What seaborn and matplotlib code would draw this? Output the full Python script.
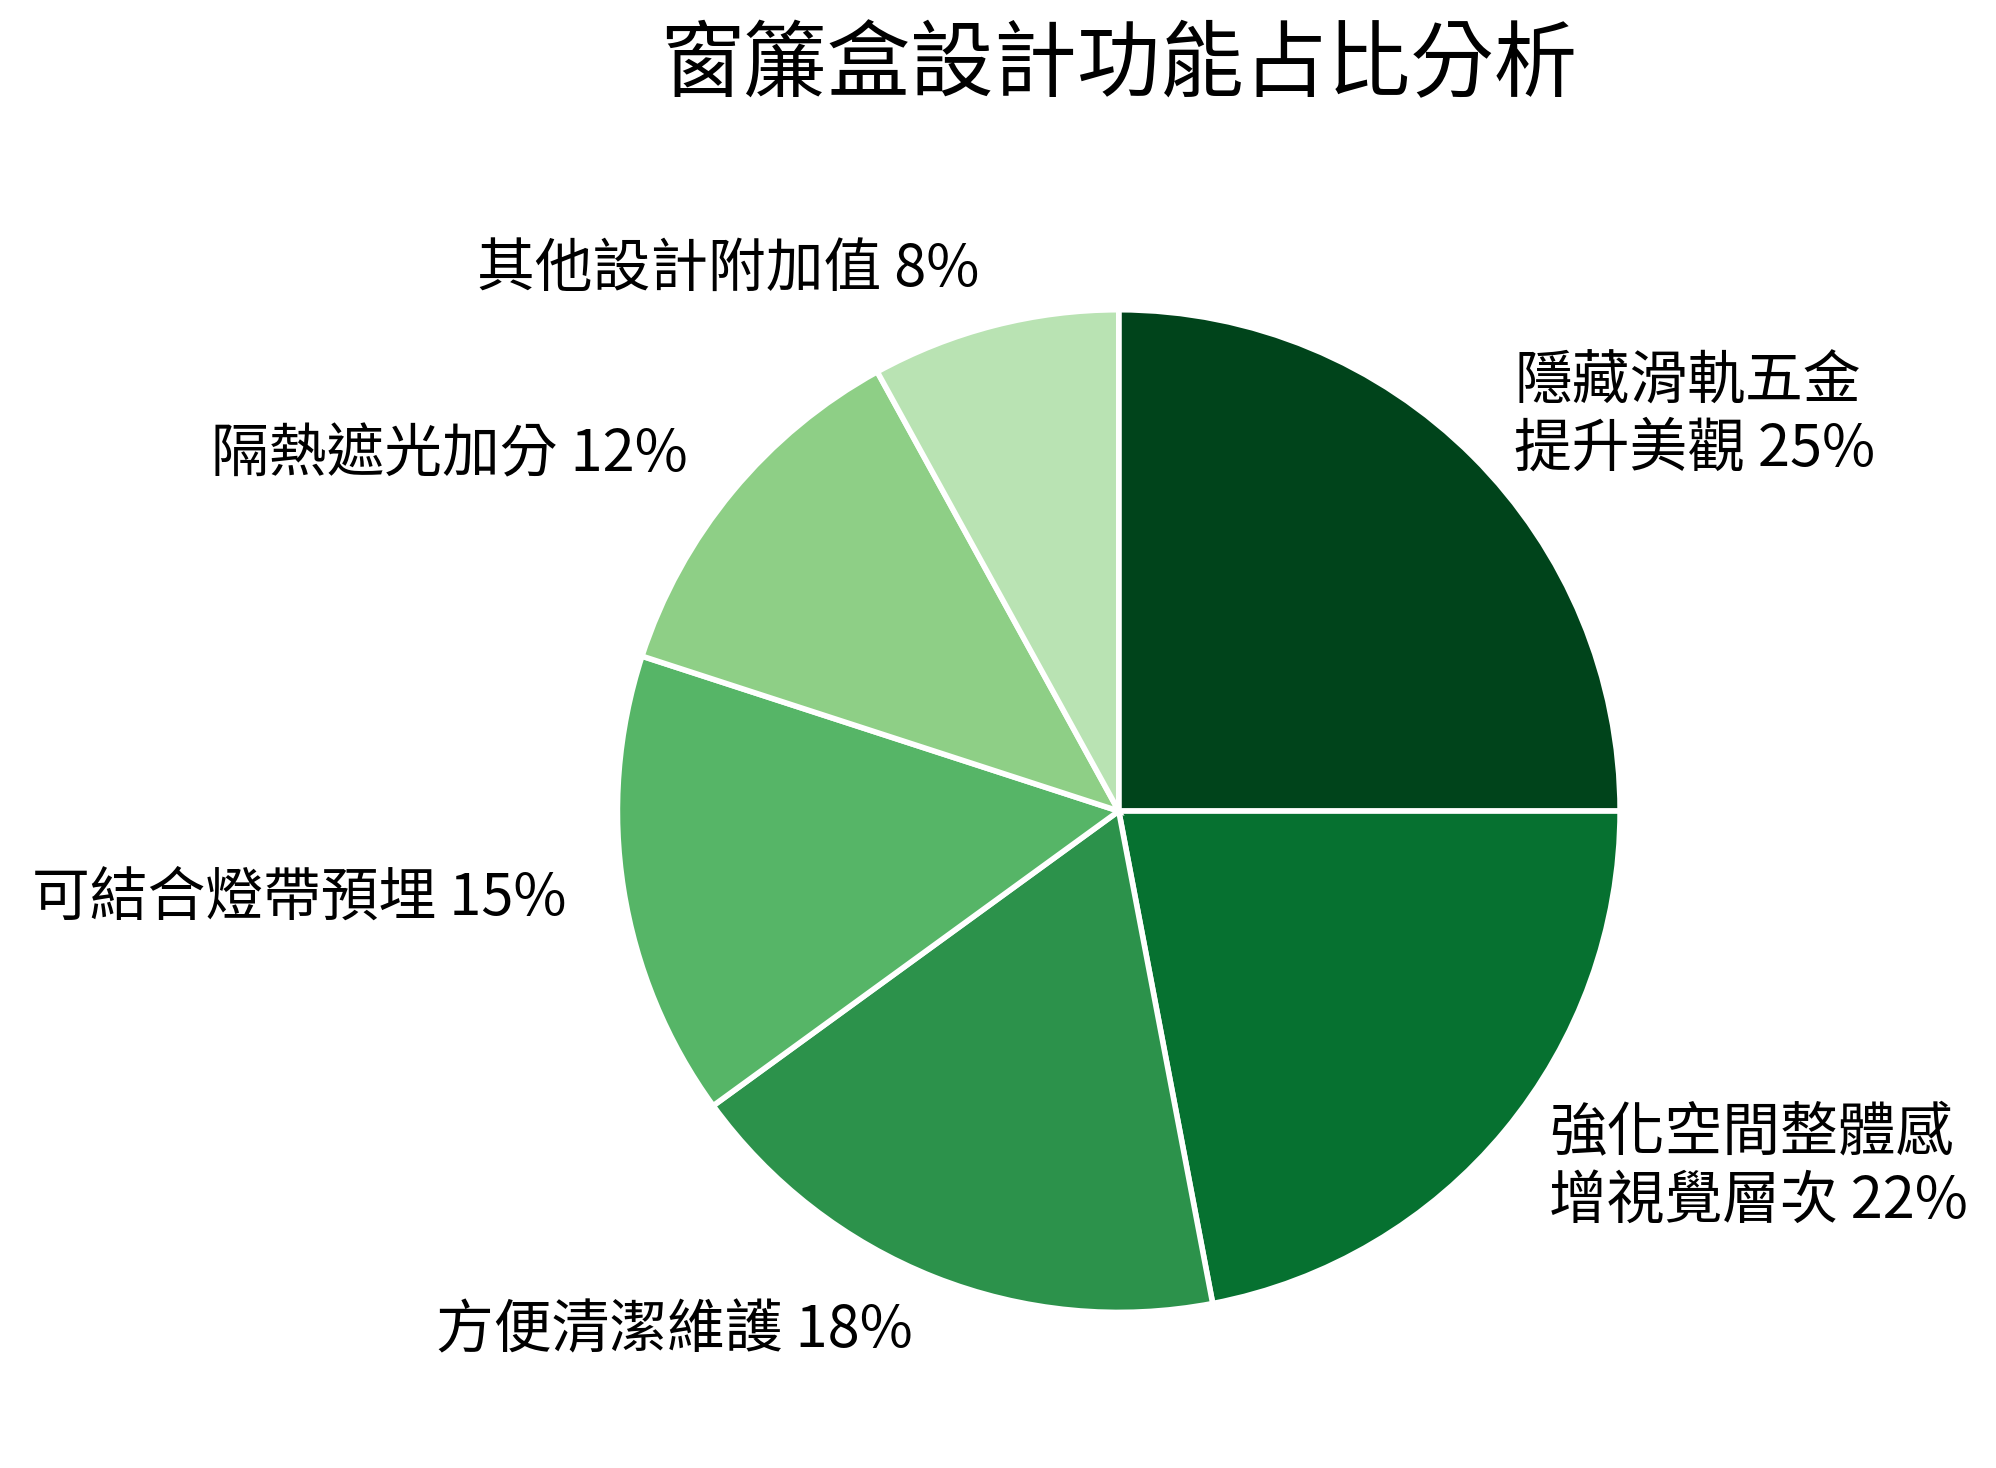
import matplotlib
matplotlib.use("Agg")
import matplotlib.pyplot as plt
import seaborn as sns

# data
labels = ["隱藏滑軌五金\n提升美觀", "強化空間整體感\n增視覺層次", "方便清潔維護",
          "可結合燈帶預埋", "隔熱遮光加分", "其他設計附加值"]
values = [25, 22, 18, 15, 12, 8]
colors = ["#00441b", "#067130", "#2c924b", "#56b567", "#8ecf86", "#b9e3b3"]

sns.set_theme(style="white")
plt.rcParams['font.family'] = ['Noto Sans CJK TC', 'DejaVu Sans']
plt.rcParams['text.color'] = 'black'

fig = plt.figure(figsize=(9.98, 7.34), dpi=200)
ax = fig.add_axes([0.3085, 0.106, 0.504, 0.683])
texts = [f"{l} {v}%" for l, v in zip(labels, values)]
wedges, txt = ax.pie(values, labels=texts, colors=colors, startangle=90, counterclock=False,
                     labeldistance=1.115, wedgeprops=dict(edgecolor="white", linewidth=2),
                     textprops=dict(fontsize=20.8, color="black"))
ax.set_xlim(-1, 1)
ax.set_ylim(-1, 1)
ax.set_aspect("equal")
fig.text(0.5605, 0.955, "窗簾盒設計功能占比分析", fontsize=30, ha="center", va="center")
plt.savefig("out.png", dpi=200)
